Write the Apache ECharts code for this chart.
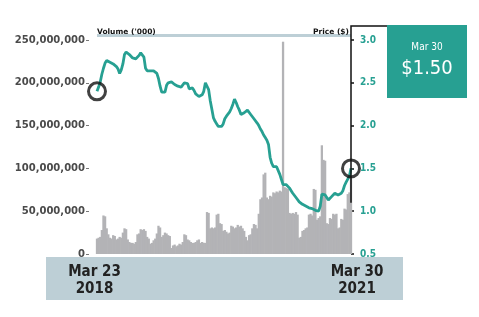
<!DOCTYPE html>
<html><head><meta charset="utf-8">
<script src="https://cdn.jsdelivr.net/npm/echarts@6/dist/echarts.min.js"></script>
<style>html,body{margin:0;padding:0;background:#fff}#c{width:479px;height:317px}</style>
</head><body><div id="c"></div>
<script>
// weekly closing price ($)
const price = [
2.40,2.45,2.51,2.60,2.67,2.73,2.76,2.77,2.74,2.73,
2.72,2.70,2.69,2.66,2.61,2.65,2.72,2.83,2.86,2.87,
2.83,2.81,2.79,2.78,2.78,2.77,2.82,2.85,2.86,2.80,
2.67,2.64,2.62,2.64,2.66,2.64,2.63,2.61,2.55,2.46,
2.39,2.38,2.39,2.47,2.50,2.49,2.51,2.49,2.48,2.47,
2.46,2.47,2.45,2.44,2.50,2.51,2.49,2.43,2.42,2.44,
2.41,2.37,2.36,2.34,2.33,2.36,2.40,2.50,2.52,2.42,
2.29,2.19,2.09,2.05,2.02,1.99,1.97,1.99,2.02,2.08,
2.11,2.12,2.16,2.20,2.25,2.31,2.27,2.22,2.18,2.13,
2.13,2.15,2.16,2.18,2.16,2.13,2.11,2.08,2.06,2.03,
2.00,1.96,1.93,1.89,1.86,1.83,1.78,1.63,1.56,1.52,
1.50,1.52,1.50,1.43,1.37,1.31,1.31,1.31,1.29,1.27,
1.24,1.21,1.19,1.16,1.14,1.11,1.10,1.08,1.07,1.06,
1.05,1.04,1.04,1.03,1.02,1.01,0.99,1.00,1.06,1.20,
1.22,1.19,1.16,1.13,1.15,1.17,1.19,1.21,1.20,1.19,
1.20,1.21,1.24,1.30,1.34,1.36,1.41,1.50
];
// weekly volume (millions of shares)
const volume = [
18,19,20,28,45,44,30,23,19,18,
22,21,17,18,20,19,25,30,29,17,
14,13,13,12,14,23,24,29,28,29,
27,20,18,12,13,16,18,24,33,31,
20,22,25,24,22,21,7,10,11,9,
10,12,11,14,23,22,17,16,14,13,
13,14,16,17,13,14,13,13,49,48,
30,31,30,31,46,47,36,35,27,28,
26,24,25,33,32,30,31,34,32,33,
30,27,20,16,22,23,30,35,34,30,
47,64,66,93,95,66,64,68,67,72,
71,73,72,74,73,248,78,77,76,48,
47,48,47,49,46,19,20,27,28,30,
31,46,47,45,76,75,40,42,44,127,
110,109,36,35,42,41,47,46,47,30,
31,41,40,53,52,70,72,88
];
const startDate = '2018-03-23';
const endDate = '2021-03-30';
const xTickLabels = ['Mar 23\n2018', 'Mar 30\n2021'];
const volumeTicks = [0, 50, 100, 150, 200, 250]; // millions
const priceTicks = [0.5, 1.0, 1.5, 2.0, 2.5, 3.0];
const calloutDate = 'Mar 30';

// categories: weekly dates, last one is the final trading day
const dates = [];
{
  const d0 = new Date(startDate + 'T00:00:00Z');
  for (let i = 0; i < price.length; i++) {
    const d = new Date(d0.getTime() + i * 7 * 86400000);
    dates.push(d.toISOString().slice(0, 10));
  }
  dates[dates.length - 1] = endDate;
}
const n = dates.length;

const TEAL = '#27a092';
const BAND = '#bdcfd6';
const XFONT = '"DejaVu Sans Condensed", "DejaVu Sans", sans-serif';
const chart = echarts.init(document.getElementById('c'), null, {renderer: 'canvas'});

chart.setOption({
  animation: false,
  backgroundColor: '#fff',
  grid: {left: 97, right: 128, top: 40, bottom: 63, containLabel: false},
  xAxis: {
    type: 'category', data: dates, boundaryGap: false,
    axisLine: {show: false}, axisTick: {show: false}, splitLine: {show: false},
    axisLabel: {
      interval: (i) => i === 0 || i === n - 1,
      margin: 10,
      formatter: (v, i) => {
        const t = (i === 0 ? xTickLabels[0] : xTickLabels[1]).split('\n');
        const k = i === 0 ? 'a' : 'b';
        return '{' + k + '|' + t[0] + '}\n{' + k + '|' + t[1] + '}';
      },
      rich: {
        a: {fontFamily: XFONT, fontWeight: 'bold', fontSize: 15, color: '#222', lineHeight: 17, padding: [0, 5, 0, 0]},
        b: {fontFamily: XFONT, fontWeight: 'bold', fontSize: 15, color: '#222', lineHeight: 17, padding: [0, 0, 0, 12]}
      }
    }
  },
  yAxis: [{
    type: 'value', min: volumeTicks[0], max: volumeTicks[volumeTicks.length - 1], interval: 50,
    position: 'left', offset: 8,
    name: "Volume ('000)", nameLocation: 'end', nameGap: 4,
    nameTextStyle: {fontFamily: 'DejaVu Sans', fontWeight: 'bold', fontSize: 7.5, color: '#111', align: 'left', padding: [0, 0, 0, 8]},
    axisLine: {show: false},
    axisTick: {show: true, length: 3, lineStyle: {color: '#777'}},
    splitLine: {show: false},
    axisLabel: {
      margin: 4, fontFamily: 'DejaVu Sans', fontWeight: 'bold', fontSize: 10, color: '#4a4a4a',
      formatter: (v) => (v * 1e6).toLocaleString('en-US')
    }
  }, {
    type: 'value', min: priceTicks[0], max: priceTicks[priceTicks.length - 1], interval: 0.5,
    position: 'right',
    name: 'Price ($)', nameLocation: 'end', nameGap: 4,
    nameTextStyle: {fontFamily: 'DejaVu Sans', fontWeight: 'bold', fontSize: 7.5, color: '#111', align: 'right', padding: [0, 2, 0, 0]},
    axisLine: {show: false},
    axisTick: {show: true, length: 3, lineStyle: {color: '#111', width: 1.5}},
    splitLine: {show: false},
    axisLabel: {
      margin: 9, fontFamily: 'DejaVu Sans Condensed, DejaVu Sans', fontWeight: 'bold', fontSize: 10, color: TEAL,
      formatter: (v) => v.toFixed(1)
    }
  }],
  series: [{
    type: 'bar', yAxisIndex: 0, data: volume, barWidth: 2.3,
    itemStyle: {color: '#b3b3b6'}, z: 1, silent: true
  }, {
    type: 'line', yAxisIndex: 1, data: price, showSymbol: false, symbol: 'none',
    lineStyle: {color: TEAL, width: 2.8}, z: 3, silent: true
  }, {
    type: 'scatter', yAxisIndex: 1,
    data: [[dates[0], price[0]], [dates[n - 1], price[n - 1]]],
    symbol: 'circle', symbolSize: 17,
    itemStyle: {color: 'rgba(0,0,0,0)', borderColor: '#111', borderWidth: 3}, z: 5, silent: true
  }]
});

// decorations tied to the axes
const gl = 97, gr = 479 - 128, gt = 40, gb = 317 - 63;
const last = chart.convertToPixel({xAxisIndex: 0, yAxisIndex: 1}, [dates[n - 1], price[n - 1]]);
const leaderBottom = chart.convertToPixel({xAxisIndex: 0, yAxisIndex: 1}, [dates[n - 1], 1.1]);
const boxX = 387, boxY = 25, boxW = 80, boxH = 73;

chart.setOption({
  graphic: [
    {type: 'rect', z: -1, shape: {x: 46, y: gb + 3, width: 357, height: 43}, style: {fill: BAND}},
    {type: 'rect', z: -1, shape: {x: gl, y: gt - 6, width: gr - gl, height: 3}, style: {fill: BAND}},
    {type: 'polyline', z: 10, shape: {points: [[last[0], leaderBottom[1]], [last[0], boxY + 1], [boxX + 16, boxY + 1]]},
      style: {stroke: '#111', lineWidth: 1.5, fill: null}},
    {type: 'rect', z: 11, shape: {x: boxX, y: boxY, width: boxW, height: boxH}, style: {fill: TEAL}},
    {type: 'text', z: 12, x: boxX + boxW / 2, y: boxY + 22,
      style: {text: calloutDate, fill: '#fff', font: '10px "DejaVu Sans Condensed", "DejaVu Sans", sans-serif', textAlign: 'center', textVerticalAlign: 'middle'}},
    {type: 'text', z: 12, x: boxX + boxW / 2, y: boxY + 44,
      style: {text: '$' + price[n - 1].toFixed(2), fill: '#fff', font: '20px "DejaVu Sans Condensed", "DejaVu Sans", sans-serif', textAlign: 'center', textVerticalAlign: 'middle'}}
  ]
});
</script>
</body></html>
